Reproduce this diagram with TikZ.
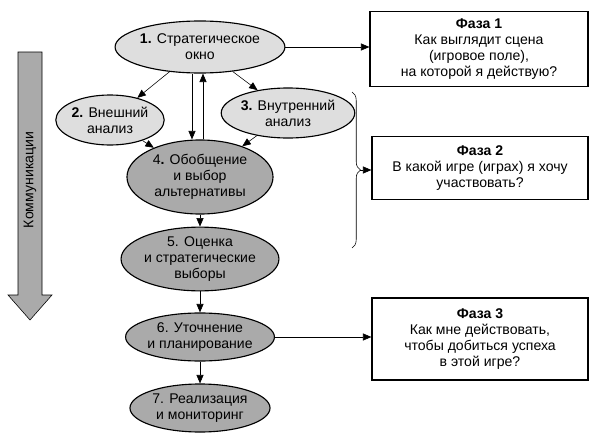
\documentclass[tikz,border=0pt]{standalone}
\usepackage{fontspec}
\setmainfont{Liberation Sans}
\usetikzlibrary{shapes.geometric,arrows.meta,decorations.pathreplacing}
\definecolor{lightfill}{RGB}{222, 222, 222}
\definecolor{darkfill}{RGB}{170, 170, 170}
\tikzset{
    stage/.style={ellipse, draw, thick, fill=lightfill, align=center,
        inner sep=0pt, font=\fontsize{10}{11.5}\selectfont},
    deep/.style={stage, fill=darkfill},
    phase/.style={rectangle, draw, thick, align=center, inner sep=2pt,
        font=\fontsize{10}{11.5}\selectfont},
    arrow/.style={-{Triangle[length=6pt,width=5pt]}}
}
\begin{document}
\begin{tikzpicture}[x=0.025cm,y=-0.025cm]
    \useasboundingbox (0,0) rectangle (600,447);

    % Stages
    \node[stage, minimum width=3.5cm, minimum height=1.3cm] (s1) at (200,47) {\textbf{1.} Стратегическое\\окно};
    \node[stage, minimum width=2.5cm, minimum height=1.25cm] (s2) at (110,120) {\textbf{2.} Внешний\\анализ};
    \node[stage, minimum width=2.4cm, minimum height=1.25cm] (s3) at (288,113) {\textbf{3.} Внутренний\\анализ};
    \node[deep, minimum width=3.65cm, minimum height=1.85cm] (s4) at (200,177) {4\textbf{.} Обобщение\\и выбор\\альтернативы};
    \node[deep, minimum width=3.65cm, minimum height=1.45cm] (s5) at (200,259) {5. Оценка\\и стратегические\\выборы};
    \node[deep, minimum width=3.5cm, minimum height=1.2cm] (s6) at (200,337) {6. Уточнение\\и планирование};
    \node[deep, minimum width=3.5cm, minimum height=1.2cm] (s7) at (200,408) {7. Реализация\\и мониторинг};

    % Phases
    \node[phase, minimum width=5.45cm, minimum height=1.875cm] (p1) at (479,49) {\textbf{Фаза 1}\\Как выглядит сцена\\(игровое поле),\\на которой я действую?};
    \node[phase, minimum width=5.4cm, minimum height=1.575cm] (p2) at (480,168) {\textbf{Фаза 2}\\В какой игре (играх) я хочу\\участвовать?};
    \node[phase, minimum width=5.4cm, minimum height=2.05cm] (p3) at (480,339) {\textbf{Фаза 3}\\Как мне действовать,\\чтобы добиться успеха\\в этой игре?};

    % Connectors
    \draw[arrow] (s1) -- (s2);
    \draw[arrow] (s1) -- (s3);
    \draw[arrow] (s2) -- (s4);
    \draw[arrow] (s3) -- (s4);
    \draw[arrow] ([xshift=-0.2cm]s1.south) -- ([xshift=-0.2cm]s1.south |- s4.north);
    \draw[arrow] ([xshift=0.075cm]s1.south |- s4.north) -- ([xshift=0.075cm]s1.south);
    \draw[arrow] (s4) -- (s5);
    \draw[arrow] (s5) -- (s6);
    \draw[arrow] (s6) -- (s7);
    \draw[arrow] (s1.east) -- (p1.west |- s1.east);
    \draw[arrow] (s6.east) -- (p3.west |- s6.east);

    % Brace
    \draw[decorate, decoration={brace, amplitude=6}] (352,92) -- (352,248);
    \coordinate (br) at (360,170);
    \draw[arrow] (br) -- (p2.west |- br);

    % Communication arrow
    \draw[fill=darkfill] (18,52) -- (42,52) -- (42,295) -- (52,295) -- (30,320)
        -- (8,295) -- (18,295) -- cycle;
    \node[rotate=90, font=\fontsize{10}{11.5}\selectfont] (comm) at (30,180) {Коммуникации};
\end{tikzpicture}
\end{document}
